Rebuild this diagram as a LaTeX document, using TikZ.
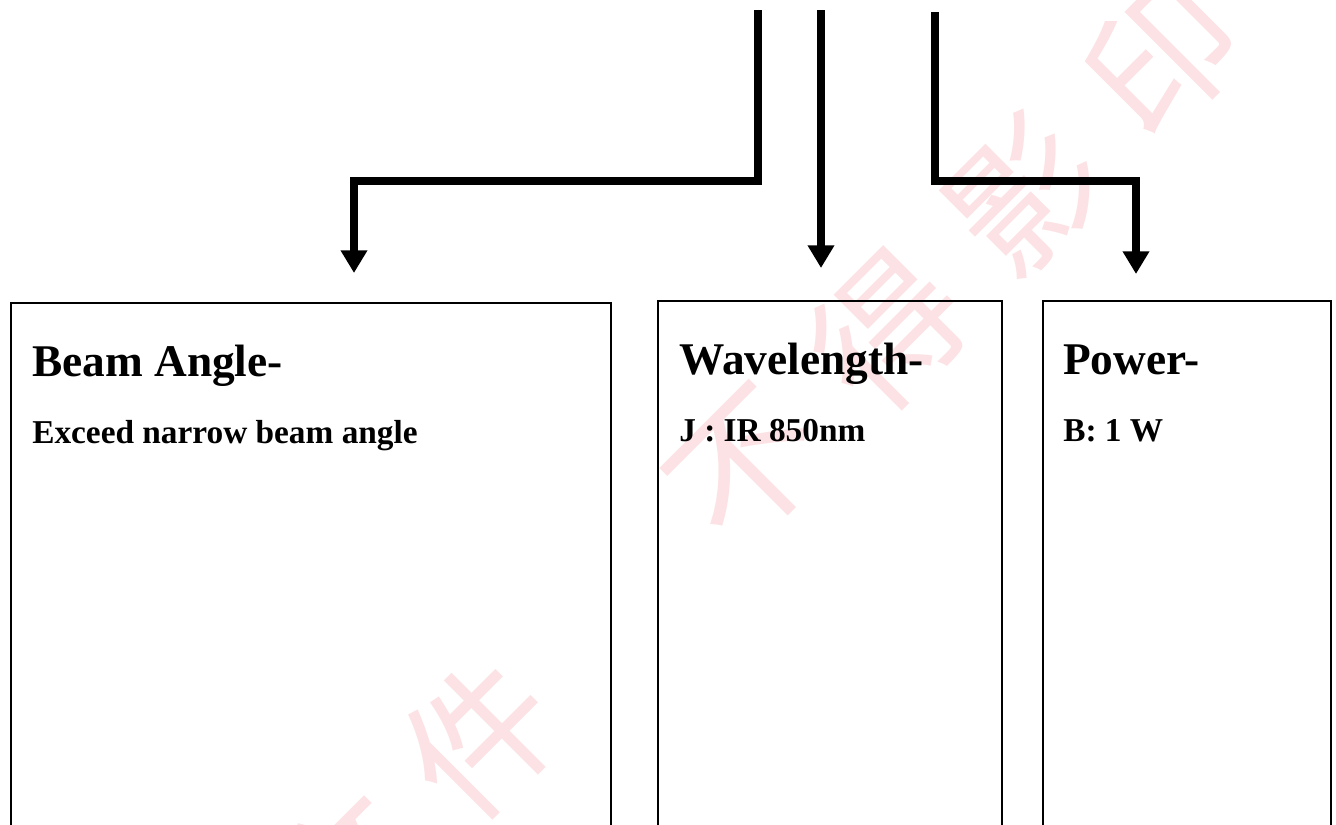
\documentclass[tikz,border=0pt]{standalone}
\usepackage{fontspec}
\setmainfont{Liberation Serif}
\newfontfamily\cjk{Noto Sans CJK SC}
\usetikzlibrary{arrows.meta}
\definecolor{wm}{RGB}{252,226,228}
\tikzset{
  conn/.style={line width=6.3pt, line join=miter, -{Triangle[width=19pt,length=17pt]}},
  boxnode/.style={draw, line width=1.4pt, anchor=north west, inner sep=0pt},
  headtxt/.style={anchor=base west, inner sep=0pt, font=\fontsize{34}{40}\selectfont\bfseries},
  bodytxt/.style={anchor=base west, inner sep=0pt, font=\fontsize{25}{30}\selectfont\bfseries},
  wmark/.style={text=wm, rotate=45, inner sep=0pt, font=\cjk\fontsize{110}{110}\selectfont}
}
\begin{document}
\begin{tikzpicture}[x=0.75pt,y=-0.75pt]
\useasboundingbox (0,0) rectangle (1336,825);
\clip (0,0) rectangle (1336,825);
% watermark
\node[wmark] (w1) at (346,872) {文};
\node[wmark] (w2) at (480,738) {件};
\node[wmark] (w3) at (748,468) {不};
\node[wmark] (w4) at (888,330) {得};
\node[wmark] (w5) at (1025,195) {影};
\node[wmark] (w6) at (1163,57) {印};
% boxes
\node[boxnode, minimum width=450pt, minimum height=405pt] (b1) at (10,302) {};
\node[boxnode, minimum width=258pt, minimum height=405pt] (b2) at (657,300) {};
\node[boxnode, minimum width=216pt, minimum height=405pt] (b3) at (1042,300) {};
% texts
\node[headtxt] (h1) at (32,376) {Beam Angle-};
\node[bodytxt] (d1) at (32,443) {Exceed narrow beam angle};
\node[headtxt] (h2) at (679,374) {Wavelength-};
\node[bodytxt] (d2) at (679,441) {J : IR 850nm};
\node[headtxt] (h3) at (1063,374) {Power-};
\node[bodytxt] (d3) at (1063,441) {B: 1 W};
% connectors
\coordinate (s1) at (758,10);
\coordinate (t1) at (354,273);
\coordinate (s2) at (821,10);
\coordinate (t2) at (821,268);
\coordinate (s3) at (935,12);
\coordinate (t3) at (1136,274);
\draw[conn] (s1) -- (758,181) -| (t1);
\draw[conn] (s2) -- (t2);
\draw[conn] (s3) -- (935,181) -| (t3);
\end{tikzpicture}
\end{document}
